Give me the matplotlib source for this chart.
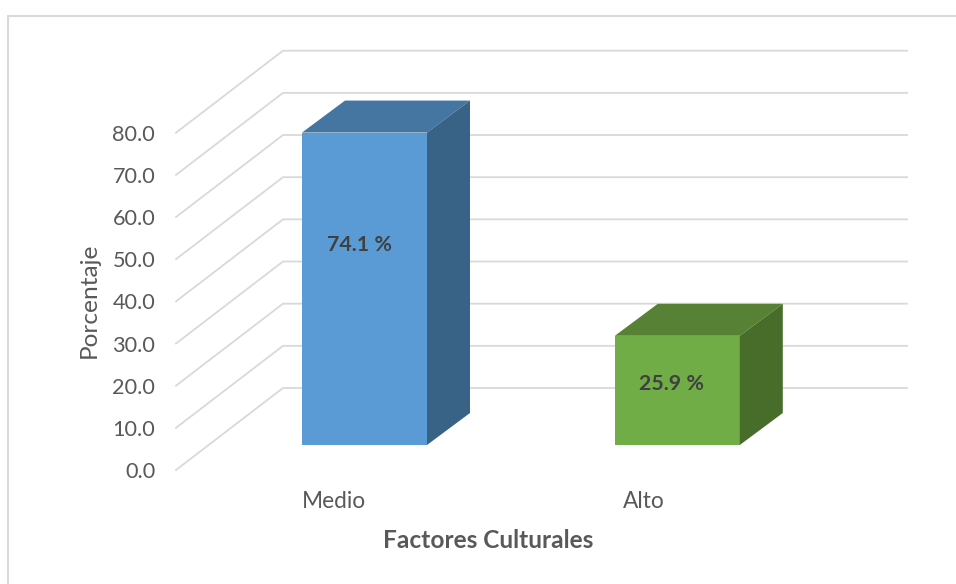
#!/usr/bin/env python3

import matplotlib

matplotlib.use("Agg")
import matplotlib.pyplot as plt
from matplotlib.lines import Line2D
from matplotlib.patches import Polygon
from matplotlib.transforms import ScaledTranslation

plt.rcParams["font.family"] = ["Lato", "DejaVu Sans"]

categories = ["Medio", "Alto"]
values = [74.1, 25.9]
value_labels = ["74.1 %", "25.9 %"]
y_ticks = [0, 10, 20, 30, 40, 50, 60, 70, 80]
y_title = "Porcentaje"
x_title = "Factores Culturales"

FIG_W, FIG_H = 956, 584
GRID_COLOR = "#d9d9d9"
TEXT_COLOR = "#595959"
LABEL_COLOR = "#404040"
# front, top, side shades for each bar
BAR_COLORS = [
    ("#5b9bd5", "#4575a1", "#386387"),
    ("#70ad47", "#578235", "#486d2a"),
]

# pixel layout of the front plane of the chart
LEFT_PX, RIGHT_PX = 176, 907
ZERO_PX, TOP_PX = 470, 51.5
PX_PER_UNIT = (470 - 132.7) / 80
PX_PER_CAT = 312.8
FIRST_CAT_PX = 364.5

# hand placed labels in the original: pixel offsets from the default spot
LABEL_X_SHIFT = [-5, -6]
LABEL_Y_PX = [245, 384]
CAT_LABEL_SHIFT = [-31, -33]


def main():
    fig = plt.figure(figsize=(FIG_W / 100, FIG_H / 100), dpi=100)
    ax = fig.add_axes(
        [
            LEFT_PX / FIG_W,
            1 - ZERO_PX / FIG_H,
            (RIGHT_PX - LEFT_PX) / FIG_W,
            (ZERO_PX - TOP_PX) / FIG_H,
        ]
    )
    ax.set_xlim(
        (LEFT_PX - FIRST_CAT_PX) / PX_PER_CAT, (RIGHT_PX - FIRST_CAT_PX) / PX_PER_CAT
    )
    ax.set_ylim(0, (ZERO_PX - TOP_PX) / PX_PER_UNIT)
    ax.patch.set_visible(False)
    for spine in ax.spines.values():
        spine.set_visible(False)

    # depth of the wall and of the bars, in data units
    wall_dx = 107 / PX_PER_CAT
    wall_dy = 82 / PX_PER_UNIT
    bar_dx = 43 / PX_PER_CAT
    bar_dy = 32 / PX_PER_UNIT
    floor_dy = 25 / PX_PER_UNIT
    half_w = 62.5 / PX_PER_CAT
    x0, x1 = ax.get_xlim()

    # gridlines: slanted side wall and back wall
    for tick in y_ticks:
        ax.plot(
            [x0, x0 + wall_dx, x1],
            [tick, tick + wall_dy, tick + wall_dy],
            color=GRID_COLOR,
            lw=1.3,
            clip_on=False,
            zorder=1,
            solid_joinstyle="miter",
        )

    for i, (value, label) in enumerate(zip(values, value_labels)):
        front, top, side = BAR_COLORS[i]
        left, right = i - half_w, i + half_w
        base = floor_dy
        high = floor_dy + value
        ax.add_patch(
            Polygon(
                [(left, base), (right, base), (right, high), (left, high)],
                facecolor=front,
                edgecolor="none",
                zorder=3,
            )
        )
        ax.add_patch(
            Polygon(
                [
                    (left, high),
                    (right, high),
                    (right + bar_dx, high + bar_dy),
                    (left + bar_dx, high + bar_dy),
                ],
                facecolor=top,
                edgecolor="none",
                zorder=3,
            )
        )
        ax.add_patch(
            Polygon(
                [
                    (right, base),
                    (right + bar_dx, base + bar_dy),
                    (right + bar_dx, high + bar_dy),
                    (right, high),
                ],
                facecolor=side,
                edgecolor="none",
                zorder=3,
            )
        )
        ax.text(
            i + LABEL_X_SHIFT[i] / PX_PER_CAT,
            (ZERO_PX - LABEL_Y_PX[i]) / PX_PER_UNIT,
            label,
            ha="center",
            va="center",
            fontsize=15.4,
            fontweight="bold",
            color=LABEL_COLOR,
            zorder=4,
        )

    ax.set_yticks(y_ticks, [f"{t:.1f}" for t in y_ticks])
    ax.set_xticks(range(len(categories)), categories)
    ax.tick_params(axis="y", length=0, labelsize=15.6, labelcolor=TEXT_COLOR, pad=15)
    ax.tick_params(axis="x", length=0, labelsize=16.3, labelcolor=TEXT_COLOR, pad=15)

    # category labels sit left of their bar centres in the original
    for tick_label, shift in zip(ax.get_xticklabels(), CAT_LABEL_SHIFT):
        tick_label.set_transform(
            tick_label.get_transform()
            + ScaledTranslation(shift / fig.dpi, 0, fig.dpi_scale_trans)
        )

    fig.text(
        89 / FIG_W,
        1 - 300 / FIG_H,
        y_title,
        rotation=90,
        ha="center",
        va="center",
        fontsize=17.6,
        color=TEXT_COLOR,
    )
    fig.text(
        488.5 / FIG_W,
        1 - 540 / FIG_H,
        x_title,
        ha="center",
        va="center",
        fontsize=17.6,
        fontweight="bold",
        color=TEXT_COLOR,
    )

    # chart area frame: only the top and left edges fall inside the picture
    fig.add_artist(
        Line2D(
            [8 / FIG_W, 8 / FIG_W, 1],
            [0, 1 - 16 / FIG_H, 1 - 16 / FIG_H],
            transform=fig.transFigure,
            color=GRID_COLOR,
            lw=1.5,
            solid_joinstyle="miter",
        )
    )

    fig.savefig("out.png", dpi=100)
    plt.close(fig)


if __name__ == "__main__":
    main()
